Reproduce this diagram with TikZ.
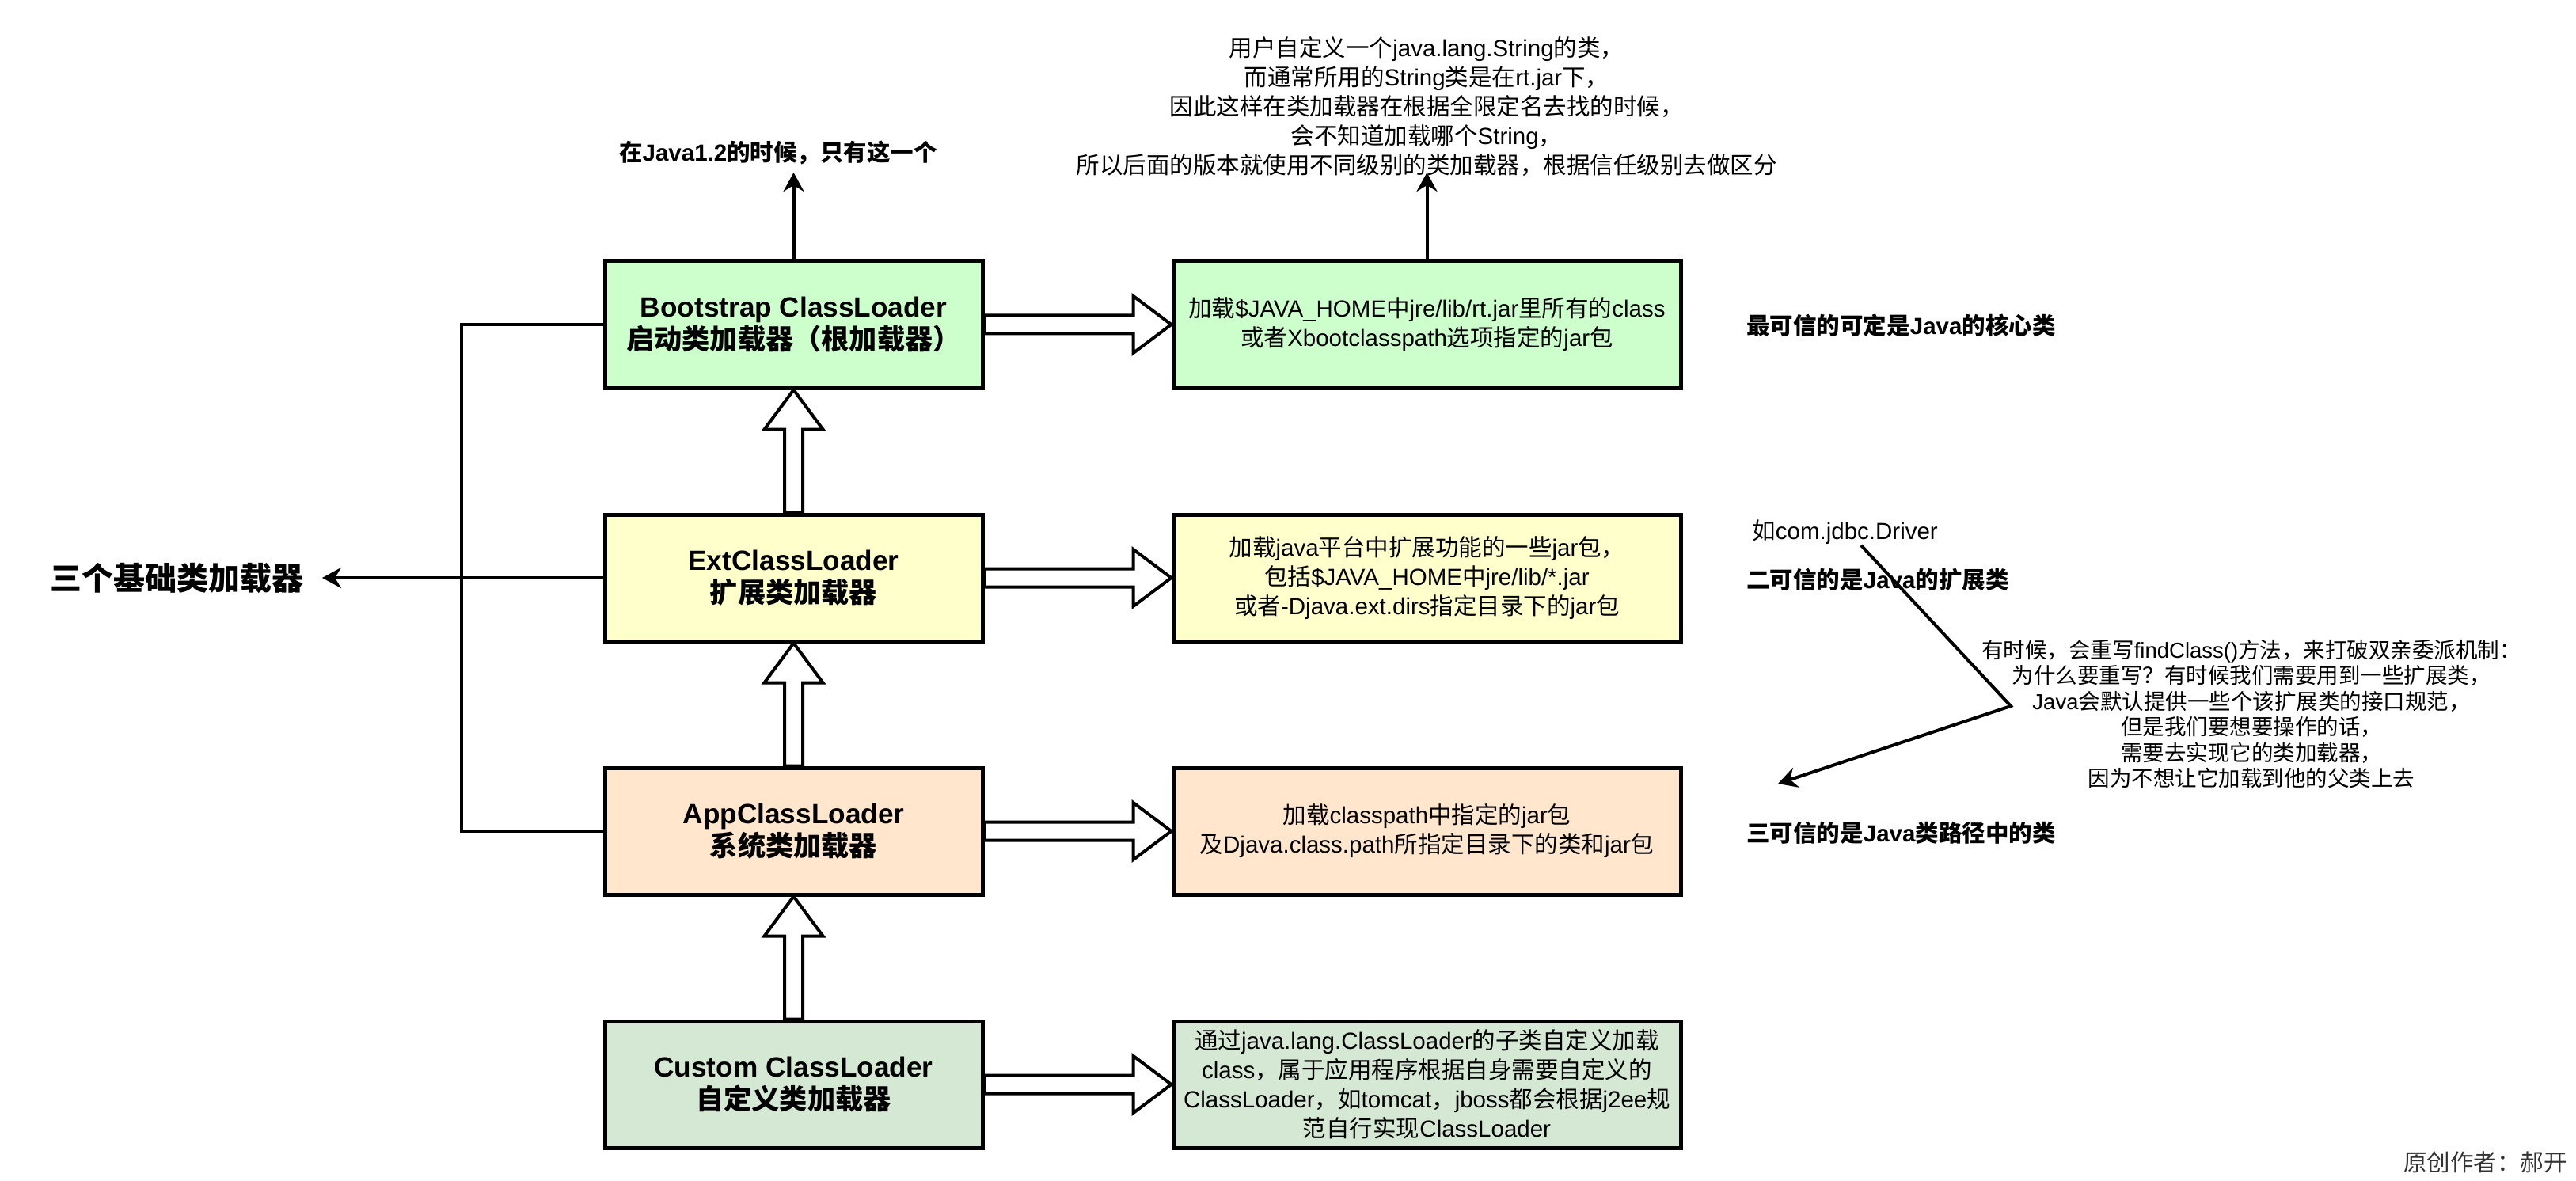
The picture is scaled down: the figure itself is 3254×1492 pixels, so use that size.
\documentclass[tikz,border=0pt]{standalone}
\usepackage{fontspec}
\setmainfont{Liberation Sans}
\newfontfamily\cjkfamily{Noto Sans CJK SC}
\usetikzlibrary{arrows.meta,calc}

% automatic switch to the CJK font for CJK characters
\newXeTeXintercharclass\CJKcls
\newcount\cjkc
\def\setcjkrange#1#2{\cjkc=#1\relax
  \loop\XeTeXcharclass\cjkc=\CJKcls\relax
  \ifnum\cjkc<#2\relax\advance\cjkc by 1\relax\repeat}
\setcjkrange{"3000}{"303F}
\setcjkrange{"4E00}{"9FFF}
\setcjkrange{"FF00}{"FFEF}
\XeTeXinterchartoks 0 \CJKcls = {\cjkfamily}
\XeTeXinterchartoks 4095 \CJKcls = {\cjkfamily}
\XeTeXinterchartoks \CJKcls 0 = {\rmfamily}
\XeTeXinterchartoks \CJKcls 4095 = {\rmfamily}
\XeTeXinterchartokenstate=1

\definecolor{cboot}{HTML}{CCFFCC}
\definecolor{cext}{HTML}{FFFFCC}
\definecolor{capp}{HTML}{FFE6CC}
\definecolor{ccus}{HTML}{D5E8D4}
\definecolor{cgray}{HTML}{333333}

\pgfdeclarelayer{back}
\pgfsetlayers{back,main}

\tikzset{
  lbox/.style={draw=black, line width=2.5pt, minimum width=238.5pt, minimum height=80pt,
    align=center, inner sep=0pt, font=\fontsize{17.6}{20.8}\selectfont\bfseries},
  rbox/.style={draw=black, line width=2.5pt, minimum width=320.5pt, minimum height=80pt,
    align=center, inner sep=0pt, font=\fontsize{14.75}{18.5}\selectfont},
  conn/.style={draw=black, line width=2pt, line join=miter},
  arr/.style={-{Stealth[length=12pt,width=13pt,inset=4pt]}},
  flex/.style={draw=black, fill=white, line width=2pt, line join=miter},
  ntext/.style={inner sep=0pt, align=center, font=\fontsize{14.75}{18.5}\selectfont},
  btext/.style={inner sep=0pt, font=\fontsize{14.75}{18.5}\selectfont\bfseries},
}

\newcommand\flexv[2]{%
  \draw[flex] let \p1=(#1.north), \p2=(#2.south) in
   (\x1-5.75pt,\y1) -- (\x1-5.75pt,\y2-25pt) -- (\x1-18.5pt,\y2-25pt) -- (\x1,\y2)
   -- (\x1+18.5pt,\y2-25pt) -- (\x1+5.75pt,\y2-25pt) -- (\x1+5.75pt,\y1) -- cycle;}
\newcommand\flexh[2]{%
  \draw[flex] let \p1=(#1.east), \p2=(#2.west) in
   (\x1,\y1+5.75pt) -- (\x2-24pt,\y1+5.75pt) -- (\x2-24pt,\y1+18pt) -- (\x2,\y1)
   -- (\x2-24pt,\y1-18pt) -- (\x2-24pt,\y1-5.75pt) -- (\x1,\y1-5.75pt) -- cycle;}

\begin{document}
\begin{tikzpicture}[x=0.5pt,y=-0.5pt]
\useasboundingbox (0,0) rectangle (3254,1492);

% left column
\node[lbox, fill=cboot] (boot) at (1002.5,410) {Bootstrap ClassLoader\\启动类加载器（根加载器）};
\node[lbox, fill=cext]  (ext)  at (1002.5,730) {ExtClassLoader\\扩展类加载器};
\node[lbox, fill=capp]  (app)  at (1002.5,1050) {AppClassLoader\\系统类加载器};
\node[lbox, fill=ccus]  (cus)  at (1002.5,1370) {Custom ClassLoader\\自定义类加载器};

% right column
\node[rbox, fill=cboot] (rboot) at (1802.5,410) {加载\$JAVA\_HOME中jre/lib/rt.jar里所有的class\\或者Xbootclasspath选项指定的jar包};
\node[rbox, fill=cext]  (rext)  at (1802.5,730) {加载java平台中扩展功能的一些jar包，\\包括\$JAVA\_HOME中jre/lib/*.jar\\或者-Djava.ext.dirs指定目录下的jar包};
\node[rbox, fill=capp]  (rapp)  at (1802.5,1050) {加载classpath中指定的jar包\\及Djava.class.path所指定目录下的类和jar包};
\node[rbox, fill=ccus]  (rcus)  at (1802.5,1370) {通过java.lang.ClassLoader的子类自定义加载\\class，属于应用程序根据自身需要自定义的\\ClassLoader，如tomcat，jboss都会根据j2ee规\\范自行实现ClassLoader};

% hollow block arrows
\begin{pgfonlayer}{back}
\flexv{ext}{boot}
\flexv{app}{ext}
\flexv{cus}{app}
\flexh{boot}{rboot}
\flexh{ext}{rext}
\flexh{app}{rapp}
\flexh{cus}{rcus}
\end{pgfonlayer}

% top annotations
\node[btext] (j12) at (983,193) {在Java1.2的时候，只有这一个};
\coordinate (t1) at (1002.5,218);
\draw[conn,arr] (boot.north) -- (t1);

\node[ntext] (note1) at (1802,135) {用户自定义一个java.lang.String的类，\\而通常所用的String类是在rt.jar下，\\因此这样在类加载器在根据全限定名去找的时候，\\会不知道加载哪个String，\\所以后面的版本就使用不同级别的类加载器，根据信任级别去做区分};
\coordinate (t2) at (1802.5,218);
\draw[conn,arr] (rboot.north) -- (t2);

% left bracket
\node[inner sep=0pt, font=\fontsize{20}{24}\selectfont\bfseries] (three) at (223,730) {三个基础类加载器};
\coordinate (jn) at (583,730);
\coordinate (t3) at (407,730);
\draw[conn] (boot.west) -| (jn) |- (app.west);
\draw[conn,arr] (ext.west) -- (t3);

% right side texts
\node[btext, anchor=west] (core) at (2206,411) {最可信的可定是Java的核心类};
\node[ntext, anchor=west] (drv) at (2213,672) {如com.jdbc.Driver};
\node[btext, anchor=west] (extc) at (2206,732) {二可信的是Java的扩展类};
\node[btext, anchor=west] (appc) at (2206,1052) {三可信的是Java类路径中的类};
\node[ntext, font=\fontsize{13.75}{16.25}\selectfont] (note2) at (2844,902) {有时候，会重写findClass()方法，来打破双亲委派机制：\\为什么要重写？有时候我们需要用到一些扩展类，\\Java会默认提供一些个该扩展类的接口规范，\\但是我们要想要操作的话，\\需要去实现它的类加载器，\\因为不想让它加载到他的父类上去};

\coordinate (zs) at (2351,689);
\coordinate (zc) at (2540,892);
\coordinate (ze) at (2246,990);
\draw[conn,arr] (zs) -- (zc) -- (ze);

\node[ntext, anchor=east, text=cgray] (author) at (3243,1468) {原创作者：郝开};
\end{tikzpicture}
\end{document}
